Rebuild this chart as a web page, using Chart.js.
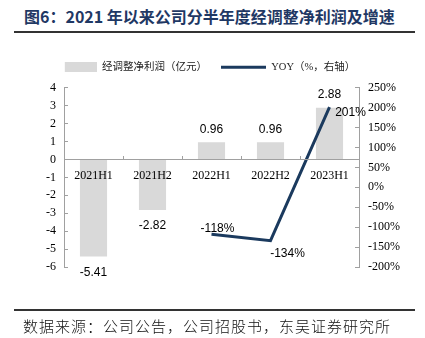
<!DOCTYPE html>
<html><head><meta charset="utf-8">
<script src="https://cdn.jsdelivr.net/npm/chart.js@4/dist/chart.umd.min.js"></script>
<style>
html,body{margin:0;padding:0;background:#fff;}
#wrap{position:relative;width:425px;height:338px;overflow:hidden;}
#title{position:absolute;left:24px;top:4px;font:bold 16px "Noto Sans CJK SC",sans-serif;color:#1f3864;white-space:nowrap;}
#tline{position:absolute;left:14px;top:31px;width:401px;height:2px;background:#333;}
#bline{position:absolute;left:14px;top:309px;width:401px;height:2px;background:#333;}
#foot{position:absolute;left:23px;top:315px;font:300 15px "Noto Sans CJK SC",sans-serif;letter-spacing:1px;color:#111;white-space:nowrap;}
canvas{position:absolute;left:0;top:0;}
</style></head>
<body><div id="wrap">
<div id="title">图6：2021 年以来公司分半年度经调整净利润及增速</div>
<div id="tline"></div>
<canvas id="c" width="425" height="338"></canvas>
<div id="bline"></div>
<div id="foot">数据来源：公司公告，公司招股书，东吴证券研究所</div>
</div>
<script>
const categories = ['2021H1','2021H2','2022H1','2022H2','2023H1'];
const profit = [-5.41, -2.82, 0.96, 0.96, 2.88];
const yoy = [null, null, -118, -134, 201];
const profitLabels = ['-5.41','-2.82','0.96','0.96','2.88'];
const yoyLabels = [null, null, '-118%', '-134%', '201%'];
const leftRange = {min:-6, max:4, step:1};
const rightRange = {min:-200, max:250, step:50};

const BAR = '#d9d9d9', LINE = '#1b3a5e', AXIS = '#a0a0a0';
const serif = '"Liberation Serif","Times New Roman",serif';
const sans = '"Liberation Sans",Arial,sans-serif';

const barIcon = document.createElement('canvas');
barIcon.width = 45; barIcon.height = 10;
(function(){const g=barIcon.getContext('2d');g.fillStyle=BAR;g.fillRect(13,0,32,10);})();

// label offsets (layout only)
const yoyOffsets = [null,null,[6,-6],[17,13],[21,5]];

const labelPlugin = {
  id:'vlabels',
  afterDatasetsDraw(chart){
    const ctx = chart.ctx;
    ctx.save();
    ctx.font = '12px ' + sans;
    ctx.fillStyle = '#000';
    ctx.textAlign = 'center';
    ctx.textBaseline = 'middle';
    chart.getDatasetMeta(0).data.forEach((el,i)=>{
      const v = profit[i];
      const y = v >= 0 ? el.y - 13 : el.y + 16;
      ctx.fillText(profitLabels[i], el.x, y);
    });
    chart.getDatasetMeta(1).data.forEach((el,i)=>{
      if (yoy[i] === null) return;
      const o = yoyOffsets[i];
      ctx.fillText(yoyLabels[i], el.x + o[0], el.y + o[1]);
    });
    ctx.restore();
  }
};

new Chart(document.getElementById('c'), {
  data:{
    labels: categories,
    datasets:[
      {type:'bar', label:'经调整净利润（亿元）', data: profit, backgroundColor: BAR,
       barPercentage:0.46, categoryPercentage:1, yAxisID:'y', order:2},
      {type:'line', label:'YOY（%，右轴）', data: yoy, borderColor: LINE, backgroundColor: LINE,
       borderWidth:3, pointRadius:0, tension:0, yAxisID:'y1', order:1}
    ]
  },
  options:{
    responsive:false, animation:false,
    layout:{padding:{left:0,right:18,top:48,bottom:71}},
    plugins:{
      tooltip:{enabled:false},
      subtitle:{display:true, text:' ', position:'top', weight:500,
                font:{size:1}, padding:{top:2,bottom:2}},
      legend:{
        position:'top',
        labels:{
          usePointStyle:true, pointStyleWidth:45, boxHeight:10,
          padding:14, color:'#222',
          font:{family: serif + ',"Noto Sans CJK SC"', size:10.5},
          generateLabels(chart){
            const items = Chart.defaults.plugins.legend.labels.generateLabels(chart);
            items.sort((a,b)=>a.datasetIndex-b.datasetIndex);
            items[0].pointStyle = barIcon;
            items[1].pointStyle = 'line';
            items[1].lineWidth = 3;
            items[1].strokeStyle = LINE;
            return items;
          }
        }
      }
    },
    scales:{
      x:{
        position:{y:0},
        offset:true,
        grid:{offset:true, drawOnChartArea:false, drawTicks:true, tickLength:-4, color:AXIS, z:1},
        border:{display:true, color:AXIS, width:1, z:1},
        ticks:{color:'#000', padding:13, font:{family:serif, size:12}, maxRotation:0, z:1}
      },
      y:{
        position:'left', min:leftRange.min, max:leftRange.max,
        afterFit(s){s.width = 64;},
        grid:{drawOnChartArea:false, drawTicks:true, tickLength:-4, color:AXIS},
        border:{display:true, color:AXIS, width:1},
        ticks:{stepSize:leftRange.step, color:'#000', padding:12, font:{family:serif, size:12}}
      },
      y1:{
        position:'right', min:rightRange.min, max:rightRange.max,
        afterFit(s){s.width = 48;},
        grid:{drawOnChartArea:false, drawTicks:true, tickLength:-4, color:AXIS},
        border:{display:true, color:AXIS, width:1},
        ticks:{stepSize:rightRange.step, color:'#000', padding:13, font:{family:serif, size:12},
               callback:v=>v+'%'}
      }
    }
  },
  plugins:[labelPlugin]
});
</script>
</body></html>
